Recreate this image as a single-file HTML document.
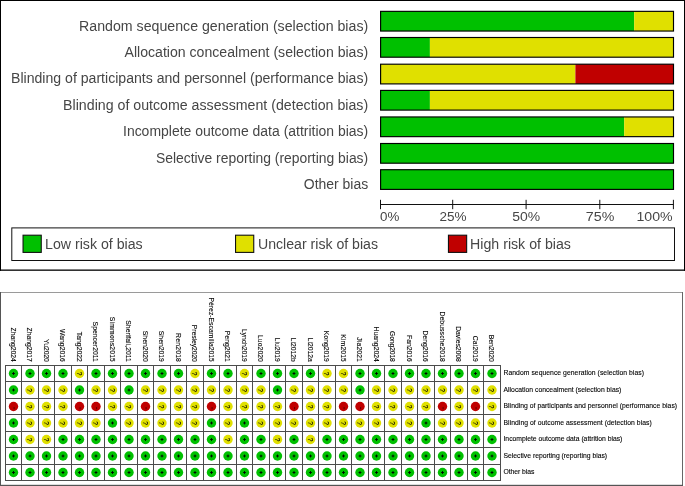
<!DOCTYPE html>
<html><head><meta charset="utf-8"><title>Risk of bias</title>
<style>
html,body{margin:0;padding:0;background:#fff;}
body{width:685px;height:486px;overflow:hidden;}
svg{display:block;will-change:transform;}
text{font-family:"Liberation Sans",sans-serif;}
.l{font-size:14px;fill:#464646;}
.a{font-size:13.4px;fill:#464646;}
.g{font-size:14px;fill:#464646;}
.s{font-size:6.8px;fill:#000;stroke:#000;stroke-width:0.1px;}
.q{font-size:8.1px;fill:#000;stroke:#000;stroke-width:0.12px;text-anchor:middle;}
</style></head>
<body>
<svg width="685" height="486" viewBox="0 0 685 486">
<rect x="0" y="0" width="685" height="486" fill="#fff"/>
<g id="graph">
<rect x="0" y="0" width="685" height="1" fill="#000"/><rect x="0" y="0" width="1" height="270.8" fill="#000"/><rect x="684" y="0" width="1" height="270.8" fill="#000"/><rect x="0" y="269.5" width="685" height="1.3" fill="#000"/>
<text class="l" x="79.1" y="30.7" textLength="289.1" lengthAdjust="spacingAndGlyphs">Random sequence generation (selection bias)</text>
<rect x="380.5" y="11.35" width="253.7" height="19.7" fill="#00c000"/><rect x="634.2" y="11.35" width="39.3" height="19.7" fill="#e0e000"/><rect x="380.6" y="11.35" width="292.9" height="19.7" fill="none" stroke="#000" stroke-width="1.15"/>
<text class="l" x="124.5" y="56.9" textLength="243.7" lengthAdjust="spacingAndGlyphs">Allocation concealment (selection bias)</text>
<rect x="380.5" y="37.5" width="49.4" height="19.7" fill="#00c000"/><rect x="429.9" y="37.5" width="243.6" height="19.7" fill="#e0e000"/><rect x="380.6" y="37.5" width="292.9" height="19.7" fill="none" stroke="#000" stroke-width="1.15"/>
<text class="l" x="11" y="83.2" textLength="357.2" lengthAdjust="spacingAndGlyphs">Blinding of participants and personnel (performance bias)</text>
<rect x="380.5" y="64.2" width="194.9" height="19.7" fill="#e0e000"/><rect x="575.4" y="64.2" width="98.1" height="19.7" fill="#c00000"/><rect x="380.6" y="64.2" width="292.9" height="19.7" fill="none" stroke="#000" stroke-width="1.15"/>
<text class="l" x="63.1" y="109.6" textLength="305.1" lengthAdjust="spacingAndGlyphs">Blinding of outcome assessment (detection bias)</text>
<rect x="380.5" y="90.4" width="49.4" height="19.7" fill="#00c000"/><rect x="429.9" y="90.4" width="243.6" height="19.7" fill="#e0e000"/><rect x="380.6" y="90.4" width="292.9" height="19.7" fill="none" stroke="#000" stroke-width="1.15"/>
<text class="l" x="123" y="136.2" textLength="245.2" lengthAdjust="spacingAndGlyphs">Incomplete outcome data (attrition bias)</text>
<rect x="380.5" y="116.95" width="243.7" height="19.7" fill="#00c000"/><rect x="624.2" y="116.95" width="49.3" height="19.7" fill="#e0e000"/><rect x="380.6" y="116.95" width="292.9" height="19.7" fill="none" stroke="#000" stroke-width="1.15"/>
<text class="l" x="155.9" y="162.65" textLength="212.3" lengthAdjust="spacingAndGlyphs">Selective reporting (reporting bias)</text>
<rect x="380.5" y="143.5" width="293" height="19.7" fill="#00c000"/><rect x="380.6" y="143.5" width="292.9" height="19.7" fill="none" stroke="#000" stroke-width="1.15"/>
<text class="l" x="303.8" y="188.9" textLength="64.4" lengthAdjust="spacingAndGlyphs">Other bias</text>
<rect x="380.5" y="169.7" width="293" height="19.7" fill="#00c000"/><rect x="380.6" y="169.7" width="292.9" height="19.7" fill="none" stroke="#000" stroke-width="1.15"/>
<path d="M380.5 204.5H673.5" stroke="#111" stroke-width="1" fill="none"/>
<path d="M380.5 199.8V209.2" stroke="#111" stroke-width="1" fill="none"/><text class="a" x="380.1" y="221.2" textLength="19.3" lengthAdjust="spacingAndGlyphs">0%</text>
<path d="M452.7 199.8V209.2" stroke="#111" stroke-width="1" fill="none"/><text class="a" x="439.4" y="221.2" textLength="27.1" lengthAdjust="spacingAndGlyphs">25%</text>
<path d="M526.1 199.8V209.2" stroke="#111" stroke-width="1" fill="none"/><text class="a" x="512.2" y="221.2" textLength="27.9" lengthAdjust="spacingAndGlyphs">50%</text>
<path d="M599.8 199.8V209.2" stroke="#111" stroke-width="1" fill="none"/><text class="a" x="585.8" y="221.2" textLength="28.5" lengthAdjust="spacingAndGlyphs">75%</text>
<path d="M673.4 199.8V209.2" stroke="#111" stroke-width="1" fill="none"/><text class="a" x="636.5" y="221.2" textLength="36.2" lengthAdjust="spacingAndGlyphs">100%</text>
<rect x="11.8" y="227.9" width="662.7" height="32.6" fill="none" stroke="#111" stroke-width="1"/>
<rect x="23.05" y="235.2" width="18.2" height="17.2" fill="#00c000" stroke="#111" stroke-width="1.1"/><text class="g" x="45" y="249.45" textLength="97.7" lengthAdjust="spacingAndGlyphs">Low risk of bias</text>
<rect x="235.55" y="235.2" width="18.2" height="17.2" fill="#e0e000" stroke="#111" stroke-width="1.1"/><text class="g" x="258" y="249.45" textLength="120" lengthAdjust="spacingAndGlyphs">Unclear risk of bias</text>
<rect x="448.45" y="235.2" width="18.2" height="17.2" fill="#c00000" stroke="#111" stroke-width="1.1"/><text class="g" x="470.1" y="249.45" textLength="100.8" lengthAdjust="spacingAndGlyphs">High risk of bias</text>
</g>
<g id="summary">
<rect x="0" y="292" width="683" height="1" fill="#9a9a9a"/><rect x="0" y="292" width="1" height="194" fill="#555"/><rect x="682" y="292" width="1" height="194" fill="#666"/><rect x="0" y="484.8" width="683" height="1.2" fill="#555"/>
<circle cx="13.5" cy="373.5" r="4.7" fill="#00c000"/><path d="M12.1 373.5h2.8M13.5 372.1v2.8" stroke="#000" stroke-width="0.95" fill="none"/><circle cx="30" cy="373.5" r="4.7" fill="#00c000"/><path d="M28.6 373.5h2.8M30 372.1v2.8" stroke="#000" stroke-width="0.95" fill="none"/><circle cx="46.5" cy="373.5" r="4.7" fill="#00c000"/><path d="M45.1 373.5h2.8M46.5 372.1v2.8" stroke="#000" stroke-width="0.95" fill="none"/><circle cx="63" cy="373.5" r="4.7" fill="#00c000"/><path d="M61.6 373.5h2.8M63 372.1v2.8" stroke="#000" stroke-width="0.95" fill="none"/><circle cx="79.5" cy="373.5" r="4.7" fill="#e0e000"/><text class="q" transform="translate(76.6 373.5) rotate(90) scale(0.82 1)" x="0" y="0">?</text><circle cx="96" cy="373.5" r="4.7" fill="#00c000"/><path d="M94.6 373.5h2.8M96 372.1v2.8" stroke="#000" stroke-width="0.95" fill="none"/><circle cx="112.5" cy="373.5" r="4.7" fill="#00c000"/><path d="M111.1 373.5h2.8M112.5 372.1v2.8" stroke="#000" stroke-width="0.95" fill="none"/><circle cx="129" cy="373.5" r="4.7" fill="#00c000"/><path d="M127.6 373.5h2.8M129 372.1v2.8" stroke="#000" stroke-width="0.95" fill="none"/><circle cx="145.5" cy="373.5" r="4.7" fill="#00c000"/><path d="M144.1 373.5h2.8M145.5 372.1v2.8" stroke="#000" stroke-width="0.95" fill="none"/><circle cx="162" cy="373.5" r="4.7" fill="#00c000"/><path d="M160.6 373.5h2.8M162 372.1v2.8" stroke="#000" stroke-width="0.95" fill="none"/><circle cx="178.5" cy="373.5" r="4.7" fill="#00c000"/><path d="M177.1 373.5h2.8M178.5 372.1v2.8" stroke="#000" stroke-width="0.95" fill="none"/><circle cx="195" cy="373.5" r="4.7" fill="#e0e000"/><text class="q" transform="translate(192.1 373.5) rotate(90) scale(0.82 1)" x="0" y="0">?</text><circle cx="211.5" cy="373.5" r="4.7" fill="#00c000"/><path d="M210.1 373.5h2.8M211.5 372.1v2.8" stroke="#000" stroke-width="0.95" fill="none"/><circle cx="228" cy="373.5" r="4.7" fill="#00c000"/><path d="M226.6 373.5h2.8M228 372.1v2.8" stroke="#000" stroke-width="0.95" fill="none"/><circle cx="244.5" cy="373.5" r="4.7" fill="#e0e000"/><text class="q" transform="translate(241.6 373.5) rotate(90) scale(0.82 1)" x="0" y="0">?</text><circle cx="261" cy="373.5" r="4.7" fill="#00c000"/><path d="M259.6 373.5h2.8M261 372.1v2.8" stroke="#000" stroke-width="0.95" fill="none"/><circle cx="277.5" cy="373.5" r="4.7" fill="#00c000"/><path d="M276.1 373.5h2.8M277.5 372.1v2.8" stroke="#000" stroke-width="0.95" fill="none"/><circle cx="294" cy="373.5" r="4.7" fill="#00c000"/><path d="M292.6 373.5h2.8M294 372.1v2.8" stroke="#000" stroke-width="0.95" fill="none"/><circle cx="310.5" cy="373.5" r="4.7" fill="#00c000"/><path d="M309.1 373.5h2.8M310.5 372.1v2.8" stroke="#000" stroke-width="0.95" fill="none"/><circle cx="327" cy="373.5" r="4.7" fill="#e0e000"/><text class="q" transform="translate(324.1 373.5) rotate(90) scale(0.82 1)" x="0" y="0">?</text><circle cx="343.5" cy="373.5" r="4.7" fill="#e0e000"/><text class="q" transform="translate(340.6 373.5) rotate(90) scale(0.82 1)" x="0" y="0">?</text><circle cx="360" cy="373.5" r="4.7" fill="#00c000"/><path d="M358.6 373.5h2.8M360 372.1v2.8" stroke="#000" stroke-width="0.95" fill="none"/><circle cx="376.5" cy="373.5" r="4.7" fill="#00c000"/><path d="M375.1 373.5h2.8M376.5 372.1v2.8" stroke="#000" stroke-width="0.95" fill="none"/><circle cx="393" cy="373.5" r="4.7" fill="#00c000"/><path d="M391.6 373.5h2.8M393 372.1v2.8" stroke="#000" stroke-width="0.95" fill="none"/><circle cx="409.5" cy="373.5" r="4.7" fill="#00c000"/><path d="M408.1 373.5h2.8M409.5 372.1v2.8" stroke="#000" stroke-width="0.95" fill="none"/><circle cx="426" cy="373.5" r="4.7" fill="#00c000"/><path d="M424.6 373.5h2.8M426 372.1v2.8" stroke="#000" stroke-width="0.95" fill="none"/><circle cx="442.5" cy="373.5" r="4.7" fill="#00c000"/><path d="M441.1 373.5h2.8M442.5 372.1v2.8" stroke="#000" stroke-width="0.95" fill="none"/><circle cx="459" cy="373.5" r="4.7" fill="#00c000"/><path d="M457.6 373.5h2.8M459 372.1v2.8" stroke="#000" stroke-width="0.95" fill="none"/><circle cx="475.5" cy="373.5" r="4.7" fill="#00c000"/><path d="M474.1 373.5h2.8M475.5 372.1v2.8" stroke="#000" stroke-width="0.95" fill="none"/><circle cx="492" cy="373.5" r="4.7" fill="#00c000"/><path d="M490.6 373.5h2.8M492 372.1v2.8" stroke="#000" stroke-width="0.95" fill="none"/>
<circle cx="13.5" cy="390" r="4.7" fill="#00c000"/><path d="M12.1 390h2.8M13.5 388.6v2.8" stroke="#000" stroke-width="0.95" fill="none"/><circle cx="30" cy="390" r="4.7" fill="#e0e000"/><text class="q" transform="translate(27.1 390) rotate(90) scale(0.82 1)" x="0" y="0">?</text><circle cx="46.5" cy="390" r="4.7" fill="#e0e000"/><text class="q" transform="translate(43.6 390) rotate(90) scale(0.82 1)" x="0" y="0">?</text><circle cx="63" cy="390" r="4.7" fill="#e0e000"/><text class="q" transform="translate(60.1 390) rotate(90) scale(0.82 1)" x="0" y="0">?</text><circle cx="79.5" cy="390" r="4.7" fill="#00c000"/><path d="M78.1 390h2.8M79.5 388.6v2.8" stroke="#000" stroke-width="0.95" fill="none"/><circle cx="96" cy="390" r="4.7" fill="#e0e000"/><text class="q" transform="translate(93.1 390) rotate(90) scale(0.82 1)" x="0" y="0">?</text><circle cx="112.5" cy="390" r="4.7" fill="#e0e000"/><text class="q" transform="translate(109.6 390) rotate(90) scale(0.82 1)" x="0" y="0">?</text><circle cx="129" cy="390" r="4.7" fill="#00c000"/><path d="M127.6 390h2.8M129 388.6v2.8" stroke="#000" stroke-width="0.95" fill="none"/><circle cx="145.5" cy="390" r="4.7" fill="#e0e000"/><text class="q" transform="translate(142.6 390) rotate(90) scale(0.82 1)" x="0" y="0">?</text><circle cx="162" cy="390" r="4.7" fill="#e0e000"/><text class="q" transform="translate(159.1 390) rotate(90) scale(0.82 1)" x="0" y="0">?</text><circle cx="178.5" cy="390" r="4.7" fill="#e0e000"/><text class="q" transform="translate(175.6 390) rotate(90) scale(0.82 1)" x="0" y="0">?</text><circle cx="195" cy="390" r="4.7" fill="#e0e000"/><text class="q" transform="translate(192.1 390) rotate(90) scale(0.82 1)" x="0" y="0">?</text><circle cx="211.5" cy="390" r="4.7" fill="#e0e000"/><text class="q" transform="translate(208.6 390) rotate(90) scale(0.82 1)" x="0" y="0">?</text><circle cx="228" cy="390" r="4.7" fill="#e0e000"/><text class="q" transform="translate(225.1 390) rotate(90) scale(0.82 1)" x="0" y="0">?</text><circle cx="244.5" cy="390" r="4.7" fill="#e0e000"/><text class="q" transform="translate(241.6 390) rotate(90) scale(0.82 1)" x="0" y="0">?</text><circle cx="261" cy="390" r="4.7" fill="#e0e000"/><text class="q" transform="translate(258.1 390) rotate(90) scale(0.82 1)" x="0" y="0">?</text><circle cx="277.5" cy="390" r="4.7" fill="#00c000"/><path d="M276.1 390h2.8M277.5 388.6v2.8" stroke="#000" stroke-width="0.95" fill="none"/><circle cx="294" cy="390" r="4.7" fill="#e0e000"/><text class="q" transform="translate(291.1 390) rotate(90) scale(0.82 1)" x="0" y="0">?</text><circle cx="310.5" cy="390" r="4.7" fill="#e0e000"/><text class="q" transform="translate(307.6 390) rotate(90) scale(0.82 1)" x="0" y="0">?</text><circle cx="327" cy="390" r="4.7" fill="#e0e000"/><text class="q" transform="translate(324.1 390) rotate(90) scale(0.82 1)" x="0" y="0">?</text><circle cx="343.5" cy="390" r="4.7" fill="#e0e000"/><text class="q" transform="translate(340.6 390) rotate(90) scale(0.82 1)" x="0" y="0">?</text><circle cx="360" cy="390" r="4.7" fill="#00c000"/><path d="M358.6 390h2.8M360 388.6v2.8" stroke="#000" stroke-width="0.95" fill="none"/><circle cx="376.5" cy="390" r="4.7" fill="#e0e000"/><text class="q" transform="translate(373.6 390) rotate(90) scale(0.82 1)" x="0" y="0">?</text><circle cx="393" cy="390" r="4.7" fill="#e0e000"/><text class="q" transform="translate(390.1 390) rotate(90) scale(0.82 1)" x="0" y="0">?</text><circle cx="409.5" cy="390" r="4.7" fill="#e0e000"/><text class="q" transform="translate(406.6 390) rotate(90) scale(0.82 1)" x="0" y="0">?</text><circle cx="426" cy="390" r="4.7" fill="#e0e000"/><text class="q" transform="translate(423.1 390) rotate(90) scale(0.82 1)" x="0" y="0">?</text><circle cx="442.5" cy="390" r="4.7" fill="#e0e000"/><text class="q" transform="translate(439.6 390) rotate(90) scale(0.82 1)" x="0" y="0">?</text><circle cx="459" cy="390" r="4.7" fill="#e0e000"/><text class="q" transform="translate(456.1 390) rotate(90) scale(0.82 1)" x="0" y="0">?</text><circle cx="475.5" cy="390" r="4.7" fill="#e0e000"/><text class="q" transform="translate(472.6 390) rotate(90) scale(0.82 1)" x="0" y="0">?</text><circle cx="492" cy="390" r="4.7" fill="#e0e000"/><text class="q" transform="translate(489.1 390) rotate(90) scale(0.82 1)" x="0" y="0">?</text>
<circle cx="13.5" cy="406.5" r="4.7" fill="#c00000"/><path d="M14.1 407.1v2.2" stroke="#400" stroke-width="0.9" fill="none" opacity="0.85"/><circle cx="30" cy="406.5" r="4.7" fill="#e0e000"/><text class="q" transform="translate(27.1 406.5) rotate(90) scale(0.82 1)" x="0" y="0">?</text><circle cx="46.5" cy="406.5" r="4.7" fill="#e0e000"/><text class="q" transform="translate(43.6 406.5) rotate(90) scale(0.82 1)" x="0" y="0">?</text><circle cx="63" cy="406.5" r="4.7" fill="#e0e000"/><text class="q" transform="translate(60.1 406.5) rotate(90) scale(0.82 1)" x="0" y="0">?</text><circle cx="79.5" cy="406.5" r="4.7" fill="#c00000"/><path d="M80.1 407.1v2.2" stroke="#400" stroke-width="0.9" fill="none" opacity="0.85"/><circle cx="96" cy="406.5" r="4.7" fill="#c00000"/><path d="M96.6 407.1v2.2" stroke="#400" stroke-width="0.9" fill="none" opacity="0.85"/><circle cx="112.5" cy="406.5" r="4.7" fill="#e0e000"/><text class="q" transform="translate(109.6 406.5) rotate(90) scale(0.82 1)" x="0" y="0">?</text><circle cx="129" cy="406.5" r="4.7" fill="#e0e000"/><text class="q" transform="translate(126.1 406.5) rotate(90) scale(0.82 1)" x="0" y="0">?</text><circle cx="145.5" cy="406.5" r="4.7" fill="#c00000"/><path d="M146.1 407.1v2.2" stroke="#400" stroke-width="0.9" fill="none" opacity="0.85"/><circle cx="162" cy="406.5" r="4.7" fill="#e0e000"/><text class="q" transform="translate(159.1 406.5) rotate(90) scale(0.82 1)" x="0" y="0">?</text><circle cx="178.5" cy="406.5" r="4.7" fill="#e0e000"/><text class="q" transform="translate(175.6 406.5) rotate(90) scale(0.82 1)" x="0" y="0">?</text><circle cx="195" cy="406.5" r="4.7" fill="#e0e000"/><text class="q" transform="translate(192.1 406.5) rotate(90) scale(0.82 1)" x="0" y="0">?</text><circle cx="211.5" cy="406.5" r="4.7" fill="#c00000"/><path d="M212.1 407.1v2.2" stroke="#400" stroke-width="0.9" fill="none" opacity="0.85"/><circle cx="228" cy="406.5" r="4.7" fill="#e0e000"/><text class="q" transform="translate(225.1 406.5) rotate(90) scale(0.82 1)" x="0" y="0">?</text><circle cx="244.5" cy="406.5" r="4.7" fill="#e0e000"/><text class="q" transform="translate(241.6 406.5) rotate(90) scale(0.82 1)" x="0" y="0">?</text><circle cx="261" cy="406.5" r="4.7" fill="#e0e000"/><text class="q" transform="translate(258.1 406.5) rotate(90) scale(0.82 1)" x="0" y="0">?</text><circle cx="277.5" cy="406.5" r="4.7" fill="#e0e000"/><text class="q" transform="translate(274.6 406.5) rotate(90) scale(0.82 1)" x="0" y="0">?</text><circle cx="294" cy="406.5" r="4.7" fill="#c00000"/><path d="M294.6 407.1v2.2" stroke="#400" stroke-width="0.9" fill="none" opacity="0.85"/><circle cx="310.5" cy="406.5" r="4.7" fill="#e0e000"/><text class="q" transform="translate(307.6 406.5) rotate(90) scale(0.82 1)" x="0" y="0">?</text><circle cx="327" cy="406.5" r="4.7" fill="#e0e000"/><text class="q" transform="translate(324.1 406.5) rotate(90) scale(0.82 1)" x="0" y="0">?</text><circle cx="343.5" cy="406.5" r="4.7" fill="#c00000"/><path d="M344.1 407.1v2.2" stroke="#400" stroke-width="0.9" fill="none" opacity="0.85"/><circle cx="360" cy="406.5" r="4.7" fill="#c00000"/><path d="M360.6 407.1v2.2" stroke="#400" stroke-width="0.9" fill="none" opacity="0.85"/><circle cx="376.5" cy="406.5" r="4.7" fill="#e0e000"/><text class="q" transform="translate(373.6 406.5) rotate(90) scale(0.82 1)" x="0" y="0">?</text><circle cx="393" cy="406.5" r="4.7" fill="#e0e000"/><text class="q" transform="translate(390.1 406.5) rotate(90) scale(0.82 1)" x="0" y="0">?</text><circle cx="409.5" cy="406.5" r="4.7" fill="#e0e000"/><text class="q" transform="translate(406.6 406.5) rotate(90) scale(0.82 1)" x="0" y="0">?</text><circle cx="426" cy="406.5" r="4.7" fill="#e0e000"/><text class="q" transform="translate(423.1 406.5) rotate(90) scale(0.82 1)" x="0" y="0">?</text><circle cx="442.5" cy="406.5" r="4.7" fill="#c00000"/><path d="M443.1 407.1v2.2" stroke="#400" stroke-width="0.9" fill="none" opacity="0.85"/><circle cx="459" cy="406.5" r="4.7" fill="#e0e000"/><text class="q" transform="translate(456.1 406.5) rotate(90) scale(0.82 1)" x="0" y="0">?</text><circle cx="475.5" cy="406.5" r="4.7" fill="#c00000"/><path d="M476.1 407.1v2.2" stroke="#400" stroke-width="0.9" fill="none" opacity="0.85"/><circle cx="492" cy="406.5" r="4.7" fill="#e0e000"/><text class="q" transform="translate(489.1 406.5) rotate(90) scale(0.82 1)" x="0" y="0">?</text>
<circle cx="13.5" cy="423" r="4.7" fill="#00c000"/><path d="M12.1 423h2.8M13.5 421.6v2.8" stroke="#000" stroke-width="0.95" fill="none"/><circle cx="30" cy="423" r="4.7" fill="#e0e000"/><text class="q" transform="translate(27.1 423) rotate(90) scale(0.82 1)" x="0" y="0">?</text><circle cx="46.5" cy="423" r="4.7" fill="#e0e000"/><text class="q" transform="translate(43.6 423) rotate(90) scale(0.82 1)" x="0" y="0">?</text><circle cx="63" cy="423" r="4.7" fill="#e0e000"/><text class="q" transform="translate(60.1 423) rotate(90) scale(0.82 1)" x="0" y="0">?</text><circle cx="79.5" cy="423" r="4.7" fill="#e0e000"/><text class="q" transform="translate(76.6 423) rotate(90) scale(0.82 1)" x="0" y="0">?</text><circle cx="96" cy="423" r="4.7" fill="#e0e000"/><text class="q" transform="translate(93.1 423) rotate(90) scale(0.82 1)" x="0" y="0">?</text><circle cx="112.5" cy="423" r="4.7" fill="#00c000"/><path d="M111.1 423h2.8M112.5 421.6v2.8" stroke="#000" stroke-width="0.95" fill="none"/><circle cx="129" cy="423" r="4.7" fill="#e0e000"/><text class="q" transform="translate(126.1 423) rotate(90) scale(0.82 1)" x="0" y="0">?</text><circle cx="145.5" cy="423" r="4.7" fill="#e0e000"/><text class="q" transform="translate(142.6 423) rotate(90) scale(0.82 1)" x="0" y="0">?</text><circle cx="162" cy="423" r="4.7" fill="#e0e000"/><text class="q" transform="translate(159.1 423) rotate(90) scale(0.82 1)" x="0" y="0">?</text><circle cx="178.5" cy="423" r="4.7" fill="#e0e000"/><text class="q" transform="translate(175.6 423) rotate(90) scale(0.82 1)" x="0" y="0">?</text><circle cx="195" cy="423" r="4.7" fill="#e0e000"/><text class="q" transform="translate(192.1 423) rotate(90) scale(0.82 1)" x="0" y="0">?</text><circle cx="211.5" cy="423" r="4.7" fill="#00c000"/><path d="M210.1 423h2.8M211.5 421.6v2.8" stroke="#000" stroke-width="0.95" fill="none"/><circle cx="228" cy="423" r="4.7" fill="#e0e000"/><text class="q" transform="translate(225.1 423) rotate(90) scale(0.82 1)" x="0" y="0">?</text><circle cx="244.5" cy="423" r="4.7" fill="#00c000"/><path d="M243.1 423h2.8M244.5 421.6v2.8" stroke="#000" stroke-width="0.95" fill="none"/><circle cx="261" cy="423" r="4.7" fill="#e0e000"/><text class="q" transform="translate(258.1 423) rotate(90) scale(0.82 1)" x="0" y="0">?</text><circle cx="277.5" cy="423" r="4.7" fill="#e0e000"/><text class="q" transform="translate(274.6 423) rotate(90) scale(0.82 1)" x="0" y="0">?</text><circle cx="294" cy="423" r="4.7" fill="#e0e000"/><text class="q" transform="translate(291.1 423) rotate(90) scale(0.82 1)" x="0" y="0">?</text><circle cx="310.5" cy="423" r="4.7" fill="#e0e000"/><text class="q" transform="translate(307.6 423) rotate(90) scale(0.82 1)" x="0" y="0">?</text><circle cx="327" cy="423" r="4.7" fill="#e0e000"/><text class="q" transform="translate(324.1 423) rotate(90) scale(0.82 1)" x="0" y="0">?</text><circle cx="343.5" cy="423" r="4.7" fill="#e0e000"/><text class="q" transform="translate(340.6 423) rotate(90) scale(0.82 1)" x="0" y="0">?</text><circle cx="360" cy="423" r="4.7" fill="#e0e000"/><text class="q" transform="translate(357.1 423) rotate(90) scale(0.82 1)" x="0" y="0">?</text><circle cx="376.5" cy="423" r="4.7" fill="#e0e000"/><text class="q" transform="translate(373.6 423) rotate(90) scale(0.82 1)" x="0" y="0">?</text><circle cx="393" cy="423" r="4.7" fill="#e0e000"/><text class="q" transform="translate(390.1 423) rotate(90) scale(0.82 1)" x="0" y="0">?</text><circle cx="409.5" cy="423" r="4.7" fill="#e0e000"/><text class="q" transform="translate(406.6 423) rotate(90) scale(0.82 1)" x="0" y="0">?</text><circle cx="426" cy="423" r="4.7" fill="#00c000"/><path d="M424.6 423h2.8M426 421.6v2.8" stroke="#000" stroke-width="0.95" fill="none"/><circle cx="442.5" cy="423" r="4.7" fill="#e0e000"/><text class="q" transform="translate(439.6 423) rotate(90) scale(0.82 1)" x="0" y="0">?</text><circle cx="459" cy="423" r="4.7" fill="#e0e000"/><text class="q" transform="translate(456.1 423) rotate(90) scale(0.82 1)" x="0" y="0">?</text><circle cx="475.5" cy="423" r="4.7" fill="#e0e000"/><text class="q" transform="translate(472.6 423) rotate(90) scale(0.82 1)" x="0" y="0">?</text><circle cx="492" cy="423" r="4.7" fill="#e0e000"/><text class="q" transform="translate(489.1 423) rotate(90) scale(0.82 1)" x="0" y="0">?</text>
<circle cx="13.5" cy="439.5" r="4.7" fill="#00c000"/><path d="M12.1 439.5h2.8M13.5 438.1v2.8" stroke="#000" stroke-width="0.95" fill="none"/><circle cx="30" cy="439.5" r="4.7" fill="#e0e000"/><text class="q" transform="translate(27.1 439.5) rotate(90) scale(0.82 1)" x="0" y="0">?</text><circle cx="46.5" cy="439.5" r="4.7" fill="#e0e000"/><text class="q" transform="translate(43.6 439.5) rotate(90) scale(0.82 1)" x="0" y="0">?</text><circle cx="63" cy="439.5" r="4.7" fill="#00c000"/><path d="M61.6 439.5h2.8M63 438.1v2.8" stroke="#000" stroke-width="0.95" fill="none"/><circle cx="79.5" cy="439.5" r="4.7" fill="#00c000"/><path d="M78.1 439.5h2.8M79.5 438.1v2.8" stroke="#000" stroke-width="0.95" fill="none"/><circle cx="96" cy="439.5" r="4.7" fill="#00c000"/><path d="M94.6 439.5h2.8M96 438.1v2.8" stroke="#000" stroke-width="0.95" fill="none"/><circle cx="112.5" cy="439.5" r="4.7" fill="#00c000"/><path d="M111.1 439.5h2.8M112.5 438.1v2.8" stroke="#000" stroke-width="0.95" fill="none"/><circle cx="129" cy="439.5" r="4.7" fill="#00c000"/><path d="M127.6 439.5h2.8M129 438.1v2.8" stroke="#000" stroke-width="0.95" fill="none"/><circle cx="145.5" cy="439.5" r="4.7" fill="#00c000"/><path d="M144.1 439.5h2.8M145.5 438.1v2.8" stroke="#000" stroke-width="0.95" fill="none"/><circle cx="162" cy="439.5" r="4.7" fill="#00c000"/><path d="M160.6 439.5h2.8M162 438.1v2.8" stroke="#000" stroke-width="0.95" fill="none"/><circle cx="178.5" cy="439.5" r="4.7" fill="#00c000"/><path d="M177.1 439.5h2.8M178.5 438.1v2.8" stroke="#000" stroke-width="0.95" fill="none"/><circle cx="195" cy="439.5" r="4.7" fill="#00c000"/><path d="M193.6 439.5h2.8M195 438.1v2.8" stroke="#000" stroke-width="0.95" fill="none"/><circle cx="211.5" cy="439.5" r="4.7" fill="#00c000"/><path d="M210.1 439.5h2.8M211.5 438.1v2.8" stroke="#000" stroke-width="0.95" fill="none"/><circle cx="228" cy="439.5" r="4.7" fill="#e0e000"/><text class="q" transform="translate(225.1 439.5) rotate(90) scale(0.82 1)" x="0" y="0">?</text><circle cx="244.5" cy="439.5" r="4.7" fill="#00c000"/><path d="M243.1 439.5h2.8M244.5 438.1v2.8" stroke="#000" stroke-width="0.95" fill="none"/><circle cx="261" cy="439.5" r="4.7" fill="#00c000"/><path d="M259.6 439.5h2.8M261 438.1v2.8" stroke="#000" stroke-width="0.95" fill="none"/><circle cx="277.5" cy="439.5" r="4.7" fill="#e0e000"/><text class="q" transform="translate(274.6 439.5) rotate(90) scale(0.82 1)" x="0" y="0">?</text><circle cx="294" cy="439.5" r="4.7" fill="#00c000"/><path d="M292.6 439.5h2.8M294 438.1v2.8" stroke="#000" stroke-width="0.95" fill="none"/><circle cx="310.5" cy="439.5" r="4.7" fill="#e0e000"/><text class="q" transform="translate(307.6 439.5) rotate(90) scale(0.82 1)" x="0" y="0">?</text><circle cx="327" cy="439.5" r="4.7" fill="#00c000"/><path d="M325.6 439.5h2.8M327 438.1v2.8" stroke="#000" stroke-width="0.95" fill="none"/><circle cx="343.5" cy="439.5" r="4.7" fill="#00c000"/><path d="M342.1 439.5h2.8M343.5 438.1v2.8" stroke="#000" stroke-width="0.95" fill="none"/><circle cx="360" cy="439.5" r="4.7" fill="#00c000"/><path d="M358.6 439.5h2.8M360 438.1v2.8" stroke="#000" stroke-width="0.95" fill="none"/><circle cx="376.5" cy="439.5" r="4.7" fill="#00c000"/><path d="M375.1 439.5h2.8M376.5 438.1v2.8" stroke="#000" stroke-width="0.95" fill="none"/><circle cx="393" cy="439.5" r="4.7" fill="#00c000"/><path d="M391.6 439.5h2.8M393 438.1v2.8" stroke="#000" stroke-width="0.95" fill="none"/><circle cx="409.5" cy="439.5" r="4.7" fill="#00c000"/><path d="M408.1 439.5h2.8M409.5 438.1v2.8" stroke="#000" stroke-width="0.95" fill="none"/><circle cx="426" cy="439.5" r="4.7" fill="#00c000"/><path d="M424.6 439.5h2.8M426 438.1v2.8" stroke="#000" stroke-width="0.95" fill="none"/><circle cx="442.5" cy="439.5" r="4.7" fill="#00c000"/><path d="M441.1 439.5h2.8M442.5 438.1v2.8" stroke="#000" stroke-width="0.95" fill="none"/><circle cx="459" cy="439.5" r="4.7" fill="#00c000"/><path d="M457.6 439.5h2.8M459 438.1v2.8" stroke="#000" stroke-width="0.95" fill="none"/><circle cx="475.5" cy="439.5" r="4.7" fill="#00c000"/><path d="M474.1 439.5h2.8M475.5 438.1v2.8" stroke="#000" stroke-width="0.95" fill="none"/><circle cx="492" cy="439.5" r="4.7" fill="#00c000"/><path d="M490.6 439.5h2.8M492 438.1v2.8" stroke="#000" stroke-width="0.95" fill="none"/>
<circle cx="13.5" cy="456" r="4.7" fill="#00c000"/><path d="M12.1 456h2.8M13.5 454.6v2.8" stroke="#000" stroke-width="0.95" fill="none"/><circle cx="30" cy="456" r="4.7" fill="#00c000"/><path d="M28.6 456h2.8M30 454.6v2.8" stroke="#000" stroke-width="0.95" fill="none"/><circle cx="46.5" cy="456" r="4.7" fill="#00c000"/><path d="M45.1 456h2.8M46.5 454.6v2.8" stroke="#000" stroke-width="0.95" fill="none"/><circle cx="63" cy="456" r="4.7" fill="#00c000"/><path d="M61.6 456h2.8M63 454.6v2.8" stroke="#000" stroke-width="0.95" fill="none"/><circle cx="79.5" cy="456" r="4.7" fill="#00c000"/><path d="M78.1 456h2.8M79.5 454.6v2.8" stroke="#000" stroke-width="0.95" fill="none"/><circle cx="96" cy="456" r="4.7" fill="#00c000"/><path d="M94.6 456h2.8M96 454.6v2.8" stroke="#000" stroke-width="0.95" fill="none"/><circle cx="112.5" cy="456" r="4.7" fill="#00c000"/><path d="M111.1 456h2.8M112.5 454.6v2.8" stroke="#000" stroke-width="0.95" fill="none"/><circle cx="129" cy="456" r="4.7" fill="#00c000"/><path d="M127.6 456h2.8M129 454.6v2.8" stroke="#000" stroke-width="0.95" fill="none"/><circle cx="145.5" cy="456" r="4.7" fill="#00c000"/><path d="M144.1 456h2.8M145.5 454.6v2.8" stroke="#000" stroke-width="0.95" fill="none"/><circle cx="162" cy="456" r="4.7" fill="#00c000"/><path d="M160.6 456h2.8M162 454.6v2.8" stroke="#000" stroke-width="0.95" fill="none"/><circle cx="178.5" cy="456" r="4.7" fill="#00c000"/><path d="M177.1 456h2.8M178.5 454.6v2.8" stroke="#000" stroke-width="0.95" fill="none"/><circle cx="195" cy="456" r="4.7" fill="#00c000"/><path d="M193.6 456h2.8M195 454.6v2.8" stroke="#000" stroke-width="0.95" fill="none"/><circle cx="211.5" cy="456" r="4.7" fill="#00c000"/><path d="M210.1 456h2.8M211.5 454.6v2.8" stroke="#000" stroke-width="0.95" fill="none"/><circle cx="228" cy="456" r="4.7" fill="#00c000"/><path d="M226.6 456h2.8M228 454.6v2.8" stroke="#000" stroke-width="0.95" fill="none"/><circle cx="244.5" cy="456" r="4.7" fill="#00c000"/><path d="M243.1 456h2.8M244.5 454.6v2.8" stroke="#000" stroke-width="0.95" fill="none"/><circle cx="261" cy="456" r="4.7" fill="#00c000"/><path d="M259.6 456h2.8M261 454.6v2.8" stroke="#000" stroke-width="0.95" fill="none"/><circle cx="277.5" cy="456" r="4.7" fill="#00c000"/><path d="M276.1 456h2.8M277.5 454.6v2.8" stroke="#000" stroke-width="0.95" fill="none"/><circle cx="294" cy="456" r="4.7" fill="#00c000"/><path d="M292.6 456h2.8M294 454.6v2.8" stroke="#000" stroke-width="0.95" fill="none"/><circle cx="310.5" cy="456" r="4.7" fill="#00c000"/><path d="M309.1 456h2.8M310.5 454.6v2.8" stroke="#000" stroke-width="0.95" fill="none"/><circle cx="327" cy="456" r="4.7" fill="#00c000"/><path d="M325.6 456h2.8M327 454.6v2.8" stroke="#000" stroke-width="0.95" fill="none"/><circle cx="343.5" cy="456" r="4.7" fill="#00c000"/><path d="M342.1 456h2.8M343.5 454.6v2.8" stroke="#000" stroke-width="0.95" fill="none"/><circle cx="360" cy="456" r="4.7" fill="#00c000"/><path d="M358.6 456h2.8M360 454.6v2.8" stroke="#000" stroke-width="0.95" fill="none"/><circle cx="376.5" cy="456" r="4.7" fill="#00c000"/><path d="M375.1 456h2.8M376.5 454.6v2.8" stroke="#000" stroke-width="0.95" fill="none"/><circle cx="393" cy="456" r="4.7" fill="#00c000"/><path d="M391.6 456h2.8M393 454.6v2.8" stroke="#000" stroke-width="0.95" fill="none"/><circle cx="409.5" cy="456" r="4.7" fill="#00c000"/><path d="M408.1 456h2.8M409.5 454.6v2.8" stroke="#000" stroke-width="0.95" fill="none"/><circle cx="426" cy="456" r="4.7" fill="#00c000"/><path d="M424.6 456h2.8M426 454.6v2.8" stroke="#000" stroke-width="0.95" fill="none"/><circle cx="442.5" cy="456" r="4.7" fill="#00c000"/><path d="M441.1 456h2.8M442.5 454.6v2.8" stroke="#000" stroke-width="0.95" fill="none"/><circle cx="459" cy="456" r="4.7" fill="#00c000"/><path d="M457.6 456h2.8M459 454.6v2.8" stroke="#000" stroke-width="0.95" fill="none"/><circle cx="475.5" cy="456" r="4.7" fill="#00c000"/><path d="M474.1 456h2.8M475.5 454.6v2.8" stroke="#000" stroke-width="0.95" fill="none"/><circle cx="492" cy="456" r="4.7" fill="#00c000"/><path d="M490.6 456h2.8M492 454.6v2.8" stroke="#000" stroke-width="0.95" fill="none"/>
<circle cx="13.5" cy="472.5" r="4.7" fill="#00c000"/><path d="M12.1 472.5h2.8M13.5 471.1v2.8" stroke="#000" stroke-width="0.95" fill="none"/><circle cx="30" cy="472.5" r="4.7" fill="#00c000"/><path d="M28.6 472.5h2.8M30 471.1v2.8" stroke="#000" stroke-width="0.95" fill="none"/><circle cx="46.5" cy="472.5" r="4.7" fill="#00c000"/><path d="M45.1 472.5h2.8M46.5 471.1v2.8" stroke="#000" stroke-width="0.95" fill="none"/><circle cx="63" cy="472.5" r="4.7" fill="#00c000"/><path d="M61.6 472.5h2.8M63 471.1v2.8" stroke="#000" stroke-width="0.95" fill="none"/><circle cx="79.5" cy="472.5" r="4.7" fill="#00c000"/><path d="M78.1 472.5h2.8M79.5 471.1v2.8" stroke="#000" stroke-width="0.95" fill="none"/><circle cx="96" cy="472.5" r="4.7" fill="#00c000"/><path d="M94.6 472.5h2.8M96 471.1v2.8" stroke="#000" stroke-width="0.95" fill="none"/><circle cx="112.5" cy="472.5" r="4.7" fill="#00c000"/><path d="M111.1 472.5h2.8M112.5 471.1v2.8" stroke="#000" stroke-width="0.95" fill="none"/><circle cx="129" cy="472.5" r="4.7" fill="#00c000"/><path d="M127.6 472.5h2.8M129 471.1v2.8" stroke="#000" stroke-width="0.95" fill="none"/><circle cx="145.5" cy="472.5" r="4.7" fill="#00c000"/><path d="M144.1 472.5h2.8M145.5 471.1v2.8" stroke="#000" stroke-width="0.95" fill="none"/><circle cx="162" cy="472.5" r="4.7" fill="#00c000"/><path d="M160.6 472.5h2.8M162 471.1v2.8" stroke="#000" stroke-width="0.95" fill="none"/><circle cx="178.5" cy="472.5" r="4.7" fill="#00c000"/><path d="M177.1 472.5h2.8M178.5 471.1v2.8" stroke="#000" stroke-width="0.95" fill="none"/><circle cx="195" cy="472.5" r="4.7" fill="#00c000"/><path d="M193.6 472.5h2.8M195 471.1v2.8" stroke="#000" stroke-width="0.95" fill="none"/><circle cx="211.5" cy="472.5" r="4.7" fill="#00c000"/><path d="M210.1 472.5h2.8M211.5 471.1v2.8" stroke="#000" stroke-width="0.95" fill="none"/><circle cx="228" cy="472.5" r="4.7" fill="#00c000"/><path d="M226.6 472.5h2.8M228 471.1v2.8" stroke="#000" stroke-width="0.95" fill="none"/><circle cx="244.5" cy="472.5" r="4.7" fill="#00c000"/><path d="M243.1 472.5h2.8M244.5 471.1v2.8" stroke="#000" stroke-width="0.95" fill="none"/><circle cx="261" cy="472.5" r="4.7" fill="#00c000"/><path d="M259.6 472.5h2.8M261 471.1v2.8" stroke="#000" stroke-width="0.95" fill="none"/><circle cx="277.5" cy="472.5" r="4.7" fill="#00c000"/><path d="M276.1 472.5h2.8M277.5 471.1v2.8" stroke="#000" stroke-width="0.95" fill="none"/><circle cx="294" cy="472.5" r="4.7" fill="#00c000"/><path d="M292.6 472.5h2.8M294 471.1v2.8" stroke="#000" stroke-width="0.95" fill="none"/><circle cx="310.5" cy="472.5" r="4.7" fill="#00c000"/><path d="M309.1 472.5h2.8M310.5 471.1v2.8" stroke="#000" stroke-width="0.95" fill="none"/><circle cx="327" cy="472.5" r="4.7" fill="#00c000"/><path d="M325.6 472.5h2.8M327 471.1v2.8" stroke="#000" stroke-width="0.95" fill="none"/><circle cx="343.5" cy="472.5" r="4.7" fill="#00c000"/><path d="M342.1 472.5h2.8M343.5 471.1v2.8" stroke="#000" stroke-width="0.95" fill="none"/><circle cx="360" cy="472.5" r="4.7" fill="#00c000"/><path d="M358.6 472.5h2.8M360 471.1v2.8" stroke="#000" stroke-width="0.95" fill="none"/><circle cx="376.5" cy="472.5" r="4.7" fill="#00c000"/><path d="M375.1 472.5h2.8M376.5 471.1v2.8" stroke="#000" stroke-width="0.95" fill="none"/><circle cx="393" cy="472.5" r="4.7" fill="#00c000"/><path d="M391.6 472.5h2.8M393 471.1v2.8" stroke="#000" stroke-width="0.95" fill="none"/><circle cx="409.5" cy="472.5" r="4.7" fill="#00c000"/><path d="M408.1 472.5h2.8M409.5 471.1v2.8" stroke="#000" stroke-width="0.95" fill="none"/><circle cx="426" cy="472.5" r="4.7" fill="#00c000"/><path d="M424.6 472.5h2.8M426 471.1v2.8" stroke="#000" stroke-width="0.95" fill="none"/><circle cx="442.5" cy="472.5" r="4.7" fill="#00c000"/><path d="M441.1 472.5h2.8M442.5 471.1v2.8" stroke="#000" stroke-width="0.95" fill="none"/><circle cx="459" cy="472.5" r="4.7" fill="#00c000"/><path d="M457.6 472.5h2.8M459 471.1v2.8" stroke="#000" stroke-width="0.95" fill="none"/><circle cx="475.5" cy="472.5" r="4.7" fill="#00c000"/><path d="M474.1 472.5h2.8M475.5 471.1v2.8" stroke="#000" stroke-width="0.95" fill="none"/><circle cx="492" cy="472.5" r="4.7" fill="#00c000"/><path d="M490.6 472.5h2.8M492 471.1v2.8" stroke="#000" stroke-width="0.95" fill="none"/>
<path d="M5.5 365V481M21.5 365V481M38.5 365V481M54.5 365V481M71.5 365V481M87.5 365V481M104.5 365V481M120.5 365V481M137.5 365V481M153.5 365V481M170.5 365V481M186.5 365V481M203.5 365V481M219.5 365V481M236.5 365V481M252.5 365V481M269.5 365V481M285.5 365V481M302.5 365V481M318.5 365V481M335.5 365V481M351.5 365V481M368.5 365V481M384.5 365V481M401.5 365V481M417.5 365V481M434.5 365V481M450.5 365V481M467.5 365V481M483.5 365V481M500.5 365V481M5 365.5H501M5 381.5H501M5 398.5H501M5 414.5H501M5 431.5H501M5 447.5H501M5 464.5H501M5 480.5H501" stroke="#4c4c4c" stroke-width="1" fill="none"/>
<text class="s" text-anchor="end" textLength="34.41" lengthAdjust="spacing" transform="translate(10.5 361.9) rotate(90)">Zhang2024</text><text class="s" text-anchor="end" textLength="34.41" lengthAdjust="spacing" transform="translate(27 361.9) rotate(90)">Zhang2017</text><text class="s" text-anchor="end" textLength="22.86" lengthAdjust="spacing" transform="translate(43.5 361.9) rotate(90)">Yu2020</text><text class="s" text-anchor="end" textLength="32.92" lengthAdjust="spacing" transform="translate(60 361.9) rotate(90)">Wang2016</text><text class="s" text-anchor="end" textLength="30.16" lengthAdjust="spacing" transform="translate(76.5 361.9) rotate(90)">Tang2022</text><text class="s" text-anchor="end" textLength="40.34" lengthAdjust="spacing" transform="translate(93 361.9) rotate(90)">Spencer2011</text><text class="s" text-anchor="end" textLength="45.05" lengthAdjust="spacing" transform="translate(109.5 361.9) rotate(90)">Simmons2015</text><text class="s" text-anchor="end" textLength="41.66" lengthAdjust="spacing" transform="translate(126 361.9) rotate(90)">Sherifali,2011</text><text class="s" text-anchor="end" textLength="31.1" lengthAdjust="spacing" transform="translate(142.5 361.9) rotate(90)">Shen2020</text><text class="s" text-anchor="end" textLength="31.1" lengthAdjust="spacing" transform="translate(159 361.9) rotate(90)">Shen2019</text><text class="s" text-anchor="end" textLength="28.89" lengthAdjust="spacing" transform="translate(175.5 361.9) rotate(90)">Ren2018</text><text class="s" text-anchor="end" textLength="37.1" lengthAdjust="spacing" transform="translate(192 361.9) rotate(90)">Presley2020</text><text class="s" text-anchor="end" textLength="64.43" lengthAdjust="spacing" transform="translate(208.5 361.9) rotate(90)">Pérez-Escamilla2015</text><text class="s" text-anchor="end" textLength="31.1" lengthAdjust="spacing" transform="translate(225 361.9) rotate(90)">Peng2021</text><text class="s" text-anchor="end" textLength="32.82" lengthAdjust="spacing" transform="translate(241.5 361.9) rotate(90)">Lynch2019</text><text class="s" text-anchor="end" textLength="26.97" lengthAdjust="spacing" transform="translate(258 361.9) rotate(90)">Luo2020</text><text class="s" text-anchor="end" textLength="24.2" lengthAdjust="spacing" transform="translate(274.5 361.9) rotate(90)">Liu2019</text><text class="s" text-anchor="end" textLength="24.2" lengthAdjust="spacing" transform="translate(291 361.9) rotate(90)">Li2012b</text><text class="s" text-anchor="end" textLength="24.2" lengthAdjust="spacing" transform="translate(307.5 361.9) rotate(90)">Li2012a</text><text class="s" text-anchor="end" textLength="31.1" lengthAdjust="spacing" transform="translate(324 361.9) rotate(90)">Kong2019</text><text class="s" text-anchor="end" textLength="27.63" lengthAdjust="spacing" transform="translate(340.5 361.9) rotate(90)">Kim2015</text><text class="s" text-anchor="end" textLength="24.61" lengthAdjust="spacing" transform="translate(357 361.9) rotate(90)">Jia2021</text><text class="s" text-anchor="end" textLength="35.46" lengthAdjust="spacing" transform="translate(373.5 361.9) rotate(90)">Huang2024</text><text class="s" text-anchor="end" textLength="30.85" lengthAdjust="spacing" transform="translate(390 361.9) rotate(90)">Gong2018</text><text class="s" text-anchor="end" textLength="26.84" lengthAdjust="spacing" transform="translate(406.5 361.9) rotate(90)">Fan2016</text><text class="s" text-anchor="end" textLength="31.48" lengthAdjust="spacing" transform="translate(423 361.9) rotate(90)">Deng2016</text><text class="s" text-anchor="end" textLength="50.52" lengthAdjust="spacing" transform="translate(439.5 361.9) rotate(90)">Debussche2018</text><text class="s" text-anchor="end" textLength="35.71" lengthAdjust="spacing" transform="translate(456 361.9) rotate(90)">Davies2008</text><text class="s" text-anchor="end" textLength="26.13" lengthAdjust="spacing" transform="translate(472.5 361.9) rotate(90)">Cai2019</text><text class="s" text-anchor="end" textLength="27.22" lengthAdjust="spacing" transform="translate(489 361.9) rotate(90)">Ben2020</text>
<text class="s" x="503.5" y="375.35" textLength="140.43" lengthAdjust="spacing">Random sequence generation (selection bias)</text>
<text class="s" x="503.5" y="391.82" textLength="117.85" lengthAdjust="spacing">Allocation concealment (selection bias)</text>
<text class="s" x="503.5" y="408.29" textLength="173.57" lengthAdjust="spacing">Blinding of participants and personnel (performance bias)</text>
<text class="s" x="503.5" y="424.76" textLength="148.27" lengthAdjust="spacing">Blinding of outcome assessment (detection bias)</text>
<text class="s" x="503.5" y="441.23" textLength="118.84" lengthAdjust="spacing">Incomplete outcome data (attrition bias)</text>
<text class="s" x="503.5" y="457.7" textLength="103.64" lengthAdjust="spacing">Selective reporting (reporting bias)</text>
<text class="s" x="503.5" y="474.17" textLength="30.87" lengthAdjust="spacing">Other bias</text>
</g>
</svg>
</body></html>
